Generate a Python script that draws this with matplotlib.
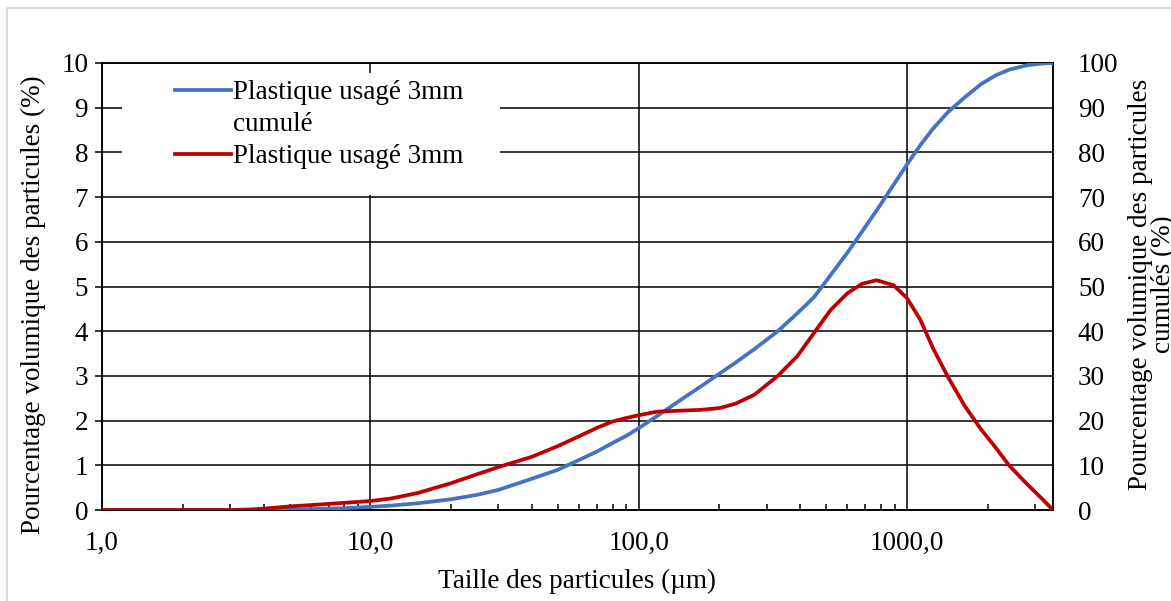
import matplotlib
matplotlib.use('Agg')
import matplotlib.pyplot as plt
from matplotlib.lines import Line2D
from matplotlib.patches import Rectangle
from matplotlib.ticker import FixedLocator, FixedFormatter, LogLocator, NullFormatter

# ---- data ----
sizes = [1, 2, 3, 3.5, 4, 5, 6, 8, 10, 12, 15, 20, 25, 30, 40, 50, 60, 70, 80, 90,
         100, 117, 140, 170, 200, 230, 270, 330, 390, 450, 520, 600, 680, 770, 890,
         1000, 1120, 1250, 1420, 1640, 1890, 2150, 2400, 2800, 3200, 3500]
freq = [0, 0, 0, 0.01, 0.03, 0.08, 0.11, 0.16, 0.20, 0.26, 0.38, 0.60, 0.80, 0.96,
        1.19, 1.43, 1.65, 1.84, 1.98, 2.06, 2.12, 2.20, 2.22, 2.24, 2.28, 2.38, 2.58,
        3.00, 3.44, 3.96, 4.48, 4.85, 5.06, 5.14, 5.03, 4.74, 4.26, 3.62, 2.98, 2.33,
        1.80, 1.38, 1.00, 0.58, 0.24, 0]
cumul = [0, 0, 0, 0.01, 0.05, 0.12, 0.2, 0.4, 0.7, 1.0, 1.5, 2.4, 3.4, 4.5, 7.0, 9.0,
         11.2, 13.1, 15.0, 16.6, 18.3, 21.0, 24.2, 27.6, 30.5, 33.0, 36.0, 40.0, 44.0,
         47.6, 52.6, 57.6, 62.3, 67.0, 72.7, 77.3, 81.6, 85.3, 89.0, 92.3, 95.3, 97.3,
         98.5, 99.5, 99.9, 100]
x_ticks = [1, 10, 100, 1000]
x_labels = ['1,0', '10,0', '100,0', '1000,0']
left_ticks = list(range(0, 11))
right_ticks = list(range(0, 101, 10))
label_cumul = 'Plastique usagé 3mm'
label_cumul2 = 'cumulé'
label_freq = 'Plastique usagé 3mm'

plt.rcParams['font.family'] = ['Liberation Serif', 'DejaVu Serif']
FS = 19.5
W, H = 1171, 601
fig = plt.figure(figsize=(W / 100, H / 100), dpi=100)
fig.patch.set_facecolor('white')

ax = fig.add_axes([102 / W, 1 - 510 / H, 951 / W, 447 / H])
ax.set_xscale('log')
ax.set_xlim(1, 3500)
ax.set_ylim(0, 10)
ax2 = ax.twinx()
ax2.set_ylim(0, 100)
ax3 = ax.twinx()
ax3.set_ylim(0, 10)
ax3.axis('off')

# ticks
ax.xaxis.set_major_locator(FixedLocator(x_ticks))
ax.xaxis.set_major_formatter(FixedFormatter(x_labels))
ax.xaxis.set_minor_locator(LogLocator(base=10, subs=range(2, 10), numticks=50))
ax.xaxis.set_minor_formatter(NullFormatter())
ax.yaxis.set_major_locator(FixedLocator(left_ticks))
ax2.yaxis.set_major_locator(FixedLocator(right_ticks))

ax.tick_params(axis='x', which='major', length=0, pad=15, labelsize=FS)
ax.tick_params(axis='x', which='minor', direction='in', length=4, width=1.1, top=False)
ax.tick_params(axis='y', which='major', direction='out', length=5, width=1.1,
               pad=5, labelsize=FS)
ax2.tick_params(axis='y', length=0, pad=18, labelsize=FS)
for lab in ax2.get_yticklabels():
    lab.set_horizontalalignment('left')

ax.grid(True, which='major', axis='both', color='black', linewidth=1.1)
for a in (ax, ax2):
    for s in a.spines.values():
        s.set_color('black')
        s.set_linewidth(1.1)

# white legend area covering grid
ax.add_patch(Rectangle((0.021, 0.705), 0.3975, 0.273, transform=ax.transAxes,
                       facecolor='white', edgecolor='none', zorder=1.8))

# data
l_cumul, = ax2.plot(sizes, cumul, color='#4472C4', lw=2.7, zorder=3,
                    solid_joinstyle='round')
l_freq, = ax3.plot(sizes, freq, color='#C00000', lw=2.7, zorder=3,
                   solid_joinstyle='round')

blank = Line2D([], [], color='none')
ax3.legend([l_cumul, blank, l_freq], [label_cumul, label_cumul2, label_freq],
           loc='upper left', bbox_to_anchor=((175 - 102) / 951, (510 - 80) / 447),
           frameon=False, fontsize=FS, handlelength=2.05, handletextpad=0.1,
           borderpad=0, borderaxespad=0, labelspacing=0.26)

# axis titles
fig.text(577 / W, 1 - 581 / H, 'Taille des particules (µm)', ha='center', va='center',
         fontsize=FS)
fig.text(33 / W, 1 - 305 / H, 'Pourcentage volumique des particules (%)', rotation=90,
         ha='center', va='center', fontsize=FS)
fig.text(1152 / W, 1 - 284 / H, 'Pourcentage volumique des particules\ncumulés (%)',
         rotation=90, ha='center', va='center', fontsize=FS, linespacing=0.92,
         multialignment='center')

# light outer frame
fig.add_artist(Line2D([6.5 / W, 6.5 / W], [0, 1 - 8 / H], color='#d9d9d9', lw=1.5,
                      transform=fig.transFigure))
fig.add_artist(Line2D([6.5 / W, 1], [1 - 8 / H, 1 - 8 / H], color='#d9d9d9', lw=1.5,
                      transform=fig.transFigure))

fig.savefig('out.png', dpi=100)
